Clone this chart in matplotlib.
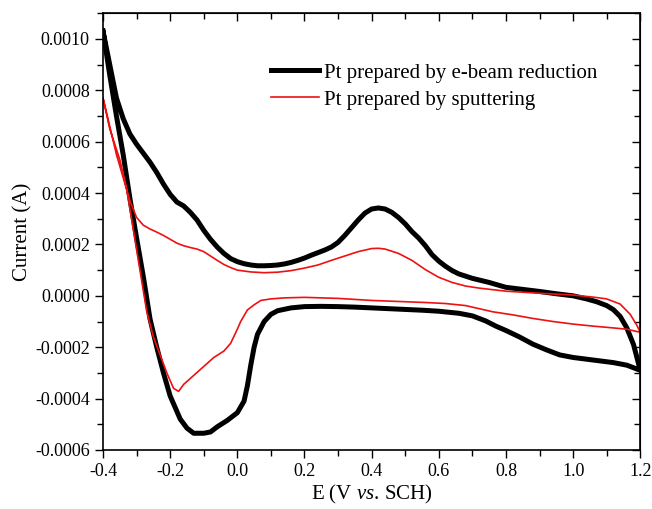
import matplotlib
matplotlib.use("Agg")
import matplotlib.pyplot as plt
import numpy as np

plt.rcParams['font.family'] = ['Liberation Serif', 'DejaVu Serif']
plt.rcParams['mathtext.fontset'] = 'custom'
plt.rcParams['mathtext.rm'] = 'Liberation Serif'
plt.rcParams['mathtext.it'] = 'Liberation Serif:italic'
plt.rcParams['axes.unicode_minus'] = False

# e-beam reduced Pt: anodic sweep (-0.4 -> 1.2) then cathodic sweep (1.2 -> -0.4), current in 1e-4 A
ebeam_fwd_E = [-0.40, -0.38, -0.36, -0.34, -0.32, -0.30, -0.28, -0.26, -0.24, -0.22, -0.20, -0.18,
               -0.16, -0.14, -0.12, -0.10, -0.08, -0.06, -0.04, -0.02, 0.00, 0.02, 0.04, 0.06, 0.08,
               0.10, 0.12, 0.14, 0.16, 0.18, 0.20, 0.22, 0.24, 0.26, 0.28, 0.30, 0.32, 0.34, 0.36,
               0.38, 0.40, 0.42, 0.44, 0.46, 0.48, 0.50, 0.52, 0.54, 0.56, 0.58, 0.60, 0.62, 0.64,
               0.66, 0.70, 0.75, 0.80, 0.85, 0.90, 0.95, 1.00, 1.04, 1.07, 1.10, 1.12, 1.14, 1.16,
               1.18, 1.19, 1.20]
ebeam_fwd_I = [10.3, 9.0, 7.7, 6.9, 6.3, 5.9, 5.55, 5.2, 4.8, 4.35, 3.95, 3.65,
               3.5, 3.25, 2.95, 2.55, 2.2, 1.9, 1.65, 1.45, 1.33, 1.25, 1.2, 1.17, 1.17,
               1.18, 1.2, 1.24, 1.3, 1.38, 1.47, 1.58, 1.68, 1.78, 1.9, 2.08, 2.35, 2.65, 2.95,
               3.22, 3.38, 3.42, 3.38, 3.25, 3.05, 2.8, 2.5, 2.25, 1.95, 1.6, 1.35, 1.15, 0.98,
               0.85, 0.68, 0.52, 0.33, 0.25, 0.17, 0.08, 0.0, -0.12, -0.23, -0.38, -0.54, -0.8, -1.25,
               -1.9, -2.4, -2.9]
ebeam_rev_E = [1.20, 1.16, 1.12, 1.06, 1.00, 0.96, 0.92, 0.88, 0.84, 0.80, 0.77, 0.74, 0.70,
               0.66, 0.60, 0.55, 0.50, 0.45, 0.40, 0.35, 0.30, 0.25, 0.20, 0.16, 0.12, 0.10,
               0.08, 0.06, 0.05, 0.04, 0.03, 0.02, 0.00, -0.03, -0.06, -0.08, -0.10, -0.13,
               -0.15, -0.17, -0.20, -0.22, -0.24, -0.26, -0.28, -0.30, -0.32, -0.34, -0.36,
               -0.38, -0.40]
ebeam_rev_I = [-2.9, -2.7, -2.6, -2.5, -2.4, -2.3, -2.1, -1.88, -1.6, -1.35, -1.18, -0.98, -0.78,
               -0.68, -0.6, -0.56, -0.53, -0.5, -0.47, -0.44, -0.42, -0.41, -0.42, -0.47, -0.58, -0.72,
               -1.0, -1.5, -2.0, -2.7, -3.5, -4.1, -4.55, -4.85, -5.1, -5.3, -5.35, -5.35,
               -5.15, -4.8, -3.9, -3.0, -2.0, -0.9, 0.75, 2.25, 3.8, 5.5, 7.0,
               8.6, 10.3]

# sputtered Pt
sput_fwd_E = [-0.40, -0.38, -0.36, -0.34, -0.32, -0.30, -0.28, -0.26, -0.24, -0.22, -0.20, -0.18,
              -0.16, -0.14, -0.12, -0.10, -0.08, -0.06, -0.04, -0.02, 0.00, 0.04, 0.08, 0.12,
              0.16, 0.20, 0.24, 0.28, 0.32, 0.36, 0.40, 0.42, 0.44, 0.48, 0.52, 0.56, 0.60,
              0.64, 0.68, 0.72, 0.80, 0.90, 1.00, 1.06, 1.10, 1.14, 1.17, 1.19, 1.20]
sput_fwd_I = [7.7, 6.6, 5.5, 4.6, 3.7, 3.05, 2.75, 2.6, 2.48, 2.35, 2.2, 2.05,
              1.95, 1.88, 1.82, 1.72, 1.55, 1.38, 1.22, 1.1, 1.0, 0.93, 0.9, 0.92,
              0.98, 1.08, 1.2, 1.38, 1.55, 1.72, 1.84, 1.85, 1.82, 1.65, 1.38, 1.02, 0.72,
              0.52, 0.38, 0.3, 0.18, 0.1, 0.03, -0.05, -0.12, -0.32, -0.72, -1.15, -1.42]
sput_rev_E = [1.20, 1.16, 1.12, 1.06, 1.00, 0.94, 0.88, 0.82, 0.76, 0.72, 0.68, 0.62, 0.56,
              0.48, 0.40, 0.30, 0.20, 0.14, 0.10, 0.07, 0.05, 0.03, 0.01, 0.00, -0.02, -0.04,
              -0.07, -0.10, -0.13, -0.16, -0.175, -0.19, -0.21, -0.23, -0.25, -0.27, -0.29,
              -0.31, -0.33, -0.35, -0.38, -0.40]
sput_rev_I = [-1.42, -1.3, -1.25, -1.18, -1.1, -1.0, -0.88, -0.74, -0.62, -0.5, -0.38, -0.3, -0.26,
              -0.22, -0.18, -0.1, -0.06, -0.08, -0.12, -0.18, -0.35, -0.55, -1.0, -1.3, -1.85, -2.15,
              -2.4, -2.75, -3.1, -3.45, -3.72, -3.6, -3.0, -2.3, -1.6, -0.6, 1.0,
              2.6, 4.2, 5.3, 6.5, 7.7]

labels = ['Pt prepared by e-beam reduction', 'Pt prepared by sputtering']

fig = plt.figure(figsize=(6.52, 5.09), dpi=100)
ax = fig.add_axes([0.158, 0.116, 0.824, 0.858])

E1 = np.array(ebeam_fwd_E + ebeam_rev_E)
I1 = np.array(ebeam_fwd_I + ebeam_rev_I) * 1e-4
E2 = np.array(sput_fwd_E + sput_rev_E)
I2 = np.array(sput_fwd_I + sput_rev_I) * 1e-4

ax.plot(E1, I1, color='black', lw=3.6, solid_joinstyle='round', label=labels[0])
ax.plot(E2, I2, color='#ee1111', lw=1.2, label=labels[1])

ax.set_xlim(-0.4, 1.2)
ax.set_ylim(-0.0006, 0.0011)
ax.set_xticks(np.arange(-0.4, 1.21, 0.2))
ax.set_xticks(np.arange(-0.4, 1.21, 0.1), minor=True)
ax.set_yticks(np.arange(-0.0006, 0.00101, 0.0002))
ax.set_yticks(np.arange(-0.0006, 0.00111, 0.0001), minor=True)
ax.xaxis.set_major_formatter(matplotlib.ticker.FormatStrFormatter('%.1f'))
ax.yaxis.set_major_formatter(matplotlib.ticker.FormatStrFormatter('%.4f'))
ax.tick_params(which='both', direction='out', labelsize=13, width=1)
ax.tick_params(which='major', length=6)
ax.tick_params(which='minor', length=4)

# inward ticks on the top and right frame
top = ax.secondary_xaxis('top')
top.set_xticks(np.arange(-0.4, 1.21, 0.2))
top.set_xticks(np.arange(-0.4, 1.21, 0.1), minor=True)
top.tick_params(which='both', direction='in', labeltop=False, width=1)
top.tick_params(which='major', length=6)
top.tick_params(which='minor', length=4)
right = ax.secondary_yaxis('right')
right.set_yticks(np.arange(-0.0006, 0.00101, 0.0002))
right.set_yticks(np.arange(-0.0006, 0.00111, 0.0001), minor=True)
right.tick_params(which='both', direction='in', labelright=False, width=1)
right.tick_params(which='major', length=6)
right.tick_params(which='minor', length=4)

for s in ax.spines.values():
    s.set_linewidth(1.2)

ax.set_xlabel(r'E (V $\mathit{vs}$. SCH)', fontsize=15, labelpad=2)
ax.set_ylabel('Current (A)', fontsize=15, labelpad=2)

ax.legend(loc='upper left', bbox_to_anchor=(0.297, 0.905), frameon=False, fontsize=15,
          handlelength=2.3, handletextpad=0.25, labelspacing=0.35, borderaxespad=0)

fig.savefig('out.png', dpi=100)
